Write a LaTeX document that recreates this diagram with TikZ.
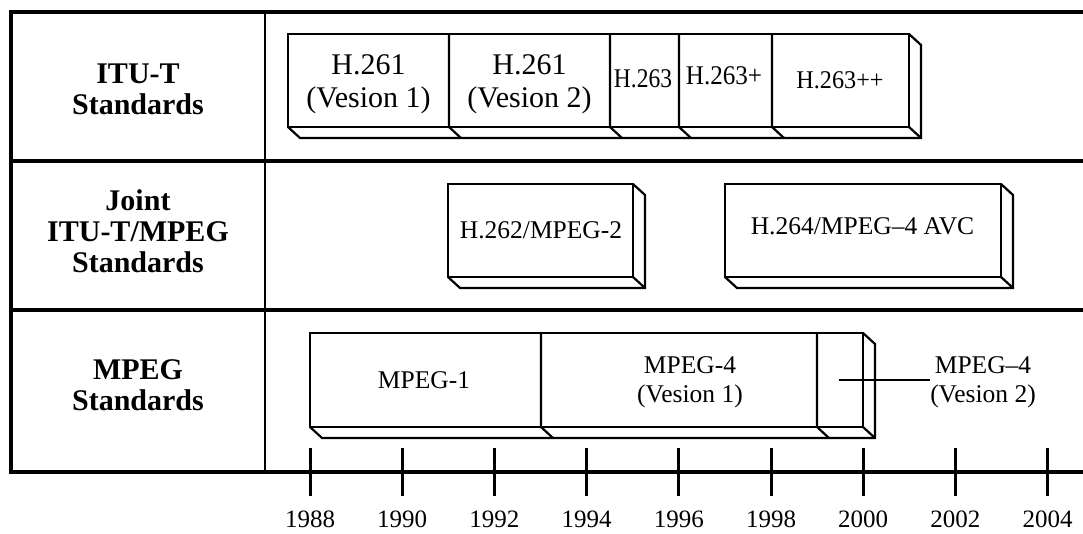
\documentclass[tikz,border=0pt]{standalone}
\usepackage{fontspec}
\setmainfont{Liberation Serif}
\newcommand\dX{12}
\newcommand\dY{11}
% 3D box: x1, x2, ytop, ybot
\newcommand\tdbox[4]{%
  \draw[boxline] (#1,#3) rectangle (#2,#4);
  \draw[boxline] (#1,#4) -- ++(\dX,\dY) -- (#2+\dX,#4+\dY) -- (#2+\dX,#3+\dY) -- (#2,#3);
  \draw[boxline] (#2,#4) -- ++(\dX,\dY);
}
\newcommand\tddiv[3]{% x, ytop, ybot
  \draw[boxline] (#1,#2) -- (#1,#3) -- ++(\dX,\dY);
}
\begin{document}
\begin{tikzpicture}[x=1pt,y=-1pt,
  frame/.style={line width=4.5pt},
  divline/.style={line width=2.8pt},
  boxline/.style={line width=2.2pt,line join=miter},
  tickline/.style={line width=3pt},
  lab/.style={font=\fontsize{30}{31}\selectfont\bfseries,align=center,inner sep=0pt},
  txt/.style={font=\fontsize{25.5}{29}\selectfont,align=center,inner sep=0pt},
  midtxt/.style={font=\fontsize{27}{29}\selectfont,align=center,inner sep=0pt},
  bigtxt/.style={font=\fontsize{30}{33}\selectfont,align=center,inner sep=0pt},
  yr/.style={font=\fontsize{25}{25}\selectfont,inner sep=0pt}]
\useasboundingbox (0,0) rectangle (1083,533);
% frame
\draw[frame] (1090,12) -- (11,12) -- (11,472) -- (1090,472);
\draw[frame] (11,161) -- (1090,161);
\draw[frame] (11,310) -- (1090,310);
\draw[divline] (265,12) -- (265,472);
% row labels
\node[lab] (itu) at (138,89) {ITU-T\\Standards};
\node[lab] (joint) at (138,231) {Joint\\ITU-T/MPEG\\Standards};
\node[lab] (mpeg) at (138,385) {MPEG\\Standards};
% ITU-T row
\tdbox{288}{909}{34}{127}
\foreach \d in {449,610,679,772} {\tddiv{\d}{34}{127}}
\node[bigtxt] (h261a) at (368.5,84) {H.261\\(Vesion 1)};
\node[bigtxt] (h261b) at (529.5,84) {H.261\\(Vesion 2)};
\node[midtxt] (h263) at (643,79) {\scalebox{0.87}[1]{H.263}};
\node[midtxt] (h263p) at (724,76) {\scalebox{0.93}[1]{H.263+}};
\node[txt] (h263pp) at (840,80) {\scalebox{0.95}[1]{H.263++}};
% Joint row
\tdbox{448}{633}{184}{277}
\tdbox{725}{1001}{184}{277}
\node[txt] (h262) at (541,230) {H.262/MPEG-2};
\node[txt] (h264) at (862.5,226) {H.264/MPEG--4 AVC};
% MPEG row
\tdbox{310}{863}{333}{427}
\foreach \d in {541,817} {\tddiv{\d}{333}{427}}
\node[txt] (m1) at (424,380) {MPEG-1};
\node[txt] (m4a) at (690,382) {MPEG-4\\(Vesion 1)};
\node[txt] (m4b) at (983,382) {MPEG--4\\(Vesion 2)};
\coordinate (m4bstart) at (839,380);
\draw[boxline] (m4bstart) -- (m4bstart -| m4b.west);
% timeline ticks and years
\foreach \i/\yrv in {0/1988,1/1990,2/1992,3/1994,4/1996,5/1998,6/2000,7/2002,8/2004} {
  \draw[tickline] (310+92.2*\i,448) -- (310+92.2*\i,496);
  \node[yr,anchor=base] (y\yrv) at (310+92.2*\i,527) {\yrv};
}
\end{tikzpicture}
\end{document}
